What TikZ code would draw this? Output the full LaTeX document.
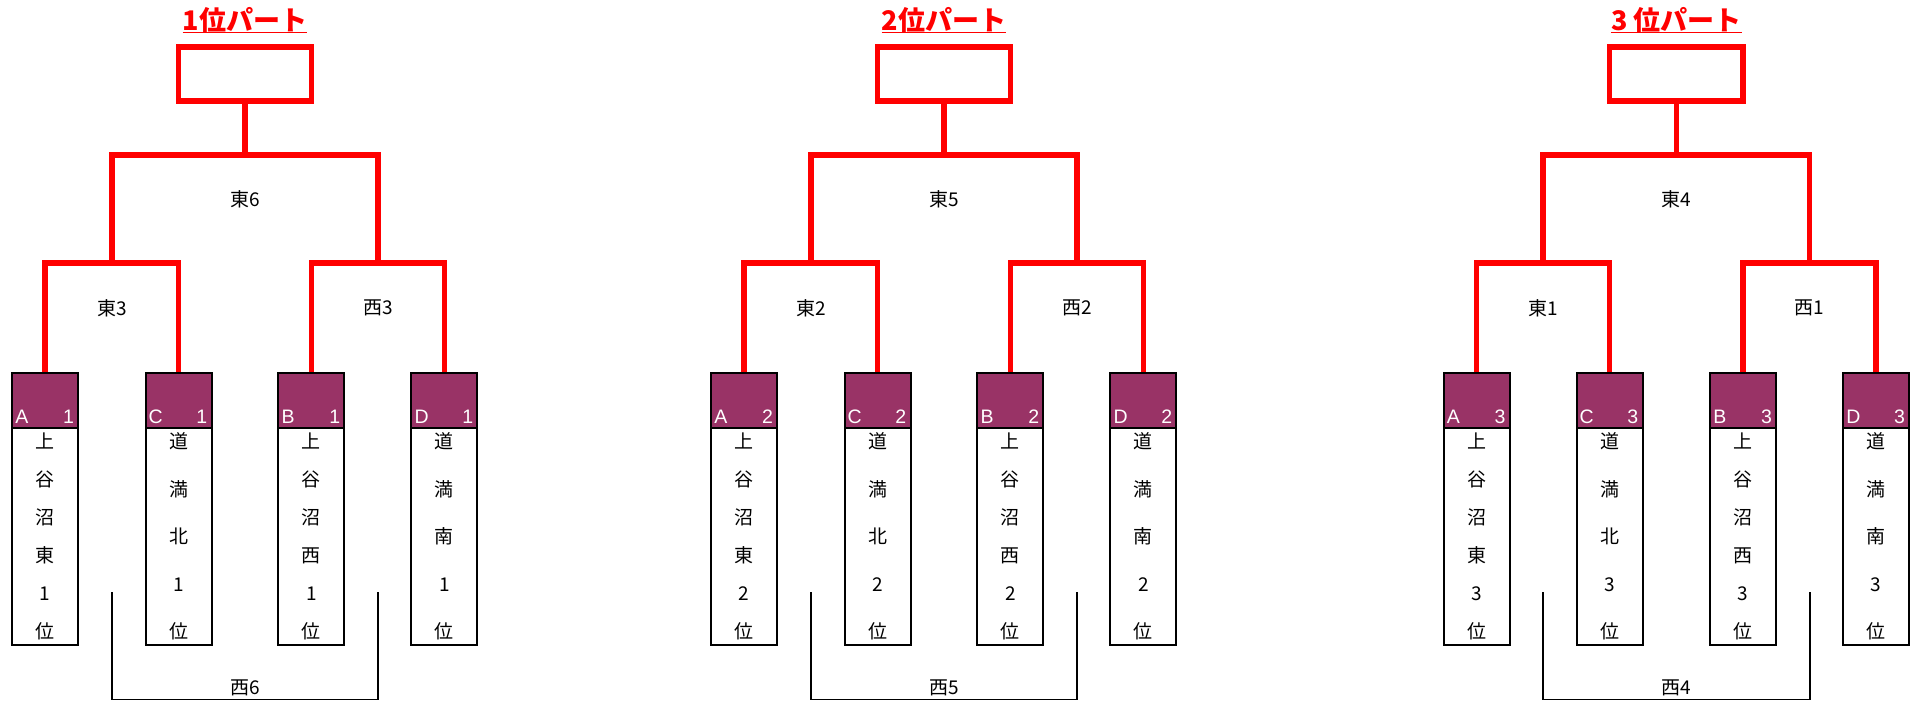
\documentclass[tikz,border=0pt]{standalone}
\usepackage{fontspec}
\newfontfamily\jp{Noto Sans CJK JP}
\newfontfamily\lat{Liberation Sans}
\definecolor{plum}{HTML}{993366}
\tikzset{
 hdr/.style={draw=black, line width=2pt, fill=plum, minimum height=54.5pt, inner sep=0pt},
 hdrtxt/.style={text=white, font=\lat\fontsize{19.5}{20}\selectfont, inner sep=0pt},
 bodybox/.style={draw=black, line width=2pt, minimum height=217.3pt, inner sep=0pt, align=center, text=black},
 topbox/.style={draw=red, line width=5.5pt, minimum height=54pt, inner sep=0pt},
 rl/.style={draw=red, line width=5.5pt, line join=miter},
 ul/.style={draw=red, line width=1.3pt},
 ttl/.style={text=red, font=\jp\bfseries\fontsize{27}{30}\selectfont, inner sep=0pt, anchor=base},
 lbl/.style={font=\jp\fontsize{19}{22}\selectfont, inner sep=0pt},
 thinl/.style={draw=black, line width=1.8pt},
}
% #1 name, #2 x, #3 width, #4 letter, #5 number, #6 text, #7 baselineskip
\newcommand\team[7]{%
 \node[hdr, minimum width=#3] (#1) at (#2,400.5) {};
 \node[hdrtxt, anchor=base west] (#1let) at ([xshift=4pt,yshift=5pt]#1.south west) {#4};
 \node[hdrtxt, anchor=base east] (#1num) at ([xshift=-5pt,yshift=5pt]#1.south east) {#5};
 \node[bodybox, minimum width=#3, font=\jp\fontsize{19}{#7}\selectfont] (#1body) at (#2,536.4) {#6};
}
% #1 id, #2-#5 centres, #6 width, #7 rank, #8 title
\newcommand\grp[8]{%
 \pgfmathsetmacro\ma{(#2+#3)/2}%
 \pgfmathsetmacro\mb{(#4+#5)/2}%
 \pgfmathsetmacro\mt{(#3+#4)/2}%
 \pgfmathsetmacro\bw{#4-#3}%
 \team{#1A}{#2}{#6}{A}{#7}{上\\谷\\沼\\東\\#7\\位}{38}
 \team{#1C}{#3}{#6}{C}{#7}{道\\満\\北\\#7\\位}{47.5}
 \team{#1B}{#4}{#6}{B}{#7}{上\\谷\\沼\\西\\#7\\位}{38}
 \team{#1D}{#5}{#6}{D}{#7}{道\\満\\南\\#7\\位}{47.5}
 \coordinate (#1m1) at (\ma,263);
 \coordinate (#1m2) at (\mb,263);
 \coordinate (#1t) at (\mt,155);
 \node[topbox, minimum width=\bw] (#1top) at (\mt,74) {};
 \node[ttl] (#1ttl) at (\mt,30.5) {#8};
 \draw[ul] ([yshift=-2pt]#1ttl.base west) -- ([yshift=-2pt]#1ttl.base east);
 \draw[rl] (#1A.north) |- (#1m1) -| (#1C.north);
 \draw[rl] (#1B.north) |- (#1m2) -| (#1D.north);
 \draw[rl] (#1m1) |- (#1t) -| (#1m2);
 \draw[rl] (#1top.south) -- (#1t);
 \node[lbl] (#1lt) at (\mt,199) {東\the\numexpr7-#7\relax};
 \node[lbl] (#1la) at (\ma,308) {東\the\numexpr4-#7\relax};
 \node[lbl] (#1lb) at (\mb,308) {西\the\numexpr4-#7\relax};
 \node[lbl] (#1lw) at (\mt,688) {西\the\numexpr7-#7\relax};
 \coordinate (#1b1) at (\ma,592);
 \coordinate (#1b2) at (\mb,592);
 \draw[thinl] (#1b1) -- ++(0,107.5) -| (#1b2);
}
\begin{document}
\begin{tikzpicture}[x=1pt,y=-1pt]
\fill[white] (0,0) rectangle (1914,703);
\useasboundingbox (0,0) rectangle (1914,703);
\grp{g1}{45.2}{178.5}{311.4}{444.3}{66}{1}{1位パート}
\grp{g2}{744.2}{877.5}{1010.4}{1143.3}{66}{2}{2位パート}
\grp{g3}{1476.7}{1609.5}{1743.2}{1876.2}{66}{3}{3 位パート}
\end{tikzpicture}
\end{document}
